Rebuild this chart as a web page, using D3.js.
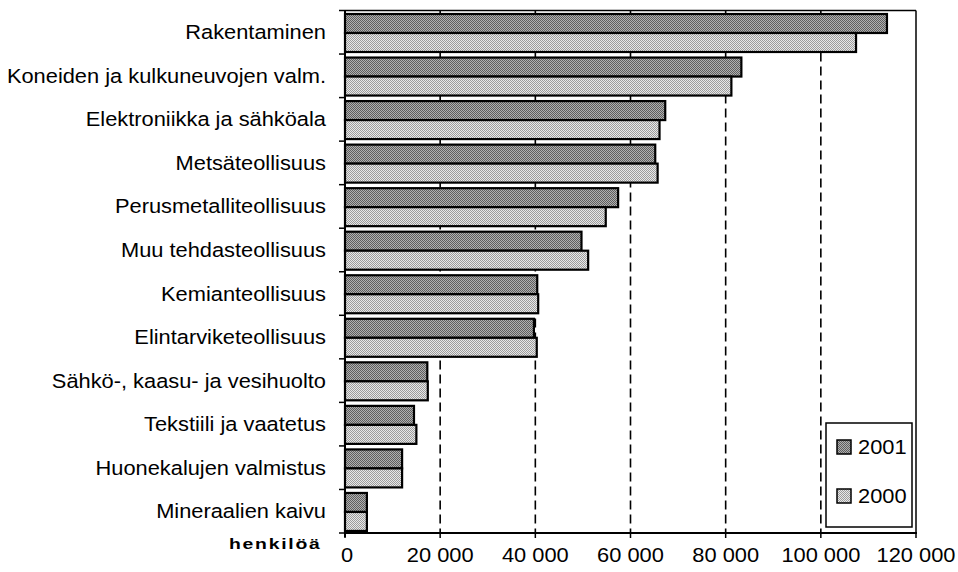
<!DOCTYPE html>
<html>
<head>
<meta charset="utf-8">
<script src="https://cdn.jsdelivr.net/npm/d3@7"></script>
<style>
  html, body { margin: 0; padding: 0; background: #fff; }
  svg { display: block; }
  text { font-family: "Liberation Sans", Arial, Helvetica, sans-serif; fill: #000; }
</style>
</head>
<body>
<script>
// ---- data ----
const categories = [
  "Rakentaminen",
  "Koneiden ja kulkuneuvojen valm.",
  "Elektroniikka ja sähköala",
  "Metsäteollisuus",
  "Perusmetalliteollisuus",
  "Muu tehdasteollisuus",
  "Kemianteollisuus",
  "Elintarviketeollisuus",
  "Sähkö-, kaasu- ja vesihuolto",
  "Tekstiili ja vaatetus",
  "Huonekalujen valmistus",
  "Mineraalien kaivu"
];
const values2001 = [113900, 83300, 67300, 65200, 57400, 49700, 40400, 39700, 17300, 14500, 12000, 4600];
const values2000 = [107400, 81200, 66100, 65700, 54800, 51100, 40600, 40300, 17400, 15000, 12000, 4600];
const seriesNames = ["2001", "2000"];
const xTicks = [0, 20000, 40000, 60000, 80000, 100000, 120000];
const xTickLabels = ["0", "20 000", "40 000", "60 000", "80 000", "100 000", "120 000"];
const gridValues = [20000, 40000, 60000, 80000, 100000];
const unitLabel = "henkilöä";

(function () {
// ---- layout ----
const W = 958, H = 572;
const pLeft = 345, pRight = 916, pTop = 10.5, pBottom = 533;
const SX = 1.12; // horizontal stretch of the text in the reference
const FS = 19.5;

const svg = d3.select("body").append("svg").attr("width", W).attr("height", H);
const defs = svg.append("defs");

function checker(id, a, b) {
  const p = defs.append("pattern").attr("id", id).attr("patternUnits", "userSpaceOnUse")
    .attr("width", 2).attr("height", 2);
  p.append("rect").attr("width", 2).attr("height", 2).attr("fill", b);
  p.append("rect").attr("width", 1).attr("height", 1).attr("fill", a);
  p.append("rect").attr("x", 1).attr("y", 1).attr("width", 1).attr("height", 1).attr("fill", a);
}
checker("pDark", "#5e5e5e", "#b0b0b0");
checker("pLight", "#9c9c9c", "#e8e8e8");
const fills = { "2001": "url(#pDark)", "2000": "url(#pLight)" };

const x = d3.scaleLinear().domain([0, 120000]).range([pLeft, pRight]);
const y = d3.scaleBand().domain(categories).range([pTop, pBottom]);
const barH = 19, barOff = 3.5;

function stretchedText(g, tx, ty, str, opts = {}) {
  const t = g.append("text")
    .attr("transform", `translate(${tx},${ty}) scale(${opts.sx || SX},1)`)
    .attr("text-anchor", opts.anchor || "start")
    .style("font-size", (opts.size || FS) + "px")
    .text(str);
  if (opts.weight) t.style("font-weight", opts.weight);
  if (opts.ls) t.style("letter-spacing", opts.ls + "px");
  if (opts.dy) t.attr("dy", opts.dy);
  return t;
}

// plot frame (top and right thin)
svg.append("line").attr("x1", pLeft).attr("x2", pRight).attr("y1", pTop).attr("y2", pTop)
  .attr("stroke", "#000").attr("stroke-width", 1.5);
svg.append("line").attr("x1", pRight).attr("x2", pRight).attr("y1", pTop).attr("y2", pBottom)
  .attr("stroke", "#000").attr("stroke-width", 1.5);

// gridlines
svg.append("g").selectAll("line").data(gridValues).join("line")
  .attr("x1", d => x(d)).attr("x2", d => x(d))
  .attr("y1", pTop).attr("y2", pBottom)
  .attr("stroke", "#000").attr("stroke-width", 1.6)
  .attr("stroke-dasharray", "9,5");

// bars
const series = [
  { name: seriesNames[0], values: values2001, idx: 0 },
  { name: seriesNames[1], values: values2000, idx: 1 }
];
const barG = svg.append("g");
series.forEach(s => {
  barG.append("g").selectAll("rect").data(categories).join("rect")
    .attr("x", x(0))
    .attr("y", c => y(c) + barOff + s.idx * barH)
    .attr("width", (c, i) => x(s.values[i]) - x(0))
    .attr("height", barH)
    .attr("fill", fills[s.name])
    .attr("stroke", "#000")
    .attr("stroke-width", 2.2);
});

// left axis
const yAxisG = svg.append("g").attr("transform", `translate(${pLeft},0)`);
yAxisG.append("line").attr("x1", 0).attr("x2", 0).attr("y1", pTop).attr("y2", pBottom + 4)
  .attr("stroke", "#000").attr("stroke-width", 2);
const boundaries = categories.map(c => y(c)).concat([pBottom]);
yAxisG.selectAll("line.tk").data(boundaries).join("line").attr("class", "tk")
  .attr("x1", -6).attr("x2", 0).attr("y1", d => d).attr("y2", d => d)
  .attr("stroke", "#000").attr("stroke-width", 1.5);

// category labels
const labG = svg.append("g");
categories.forEach(c => {
  stretchedText(labG, 326, y(c) + y.bandwidth() / 2, c, { anchor: "end", dy: "0.36em" });
});

// bottom axis
const xAxisG = svg.append("g");
xAxisG.append("line").attr("x1", pLeft - 1).attr("x2", pRight + 1).attr("y1", pBottom).attr("y2", pBottom)
  .attr("stroke", "#000").attr("stroke-width", 2);
xAxisG.selectAll("line.tk").data(xTicks).join("line").attr("class", "tk")
  .attr("x1", d => x(d)).attr("x2", d => x(d)).attr("y1", pBottom).attr("y2", pBottom + 5)
  .attr("stroke", "#000").attr("stroke-width", 1.5);
xTicks.forEach((v, i) => {
  stretchedText(xAxisG, x(v) + (i === 0 ? 2 : 0), 562, xTickLabels[i], { anchor: "middle" });
});

// unit label
stretchedText(svg, 229, 549, unitLabel, { size: 15.5, weight: "bold", ls: 1.4, sx: 1.25 });

// legend
const lg = svg.append("g");
lg.append("rect").attr("x", 826).attr("y", 423).attr("width", 86).attr("height", 104)
  .attr("fill", "#fff").attr("stroke", "#000").attr("stroke-width", 1.5);
const legY = [447, 496];
series.forEach((s, i) => {
  lg.append("rect").attr("x", 837).attr("y", legY[i] - 7).attr("width", 14).attr("height", 14)
    .attr("fill", fills[s.name]).attr("stroke", "#000").attr("stroke-width", 1.5);
  stretchedText(lg, 858, legY[i], s.name, { dy: "0.36em" });
});
})();
</script>
</body>
</html>
